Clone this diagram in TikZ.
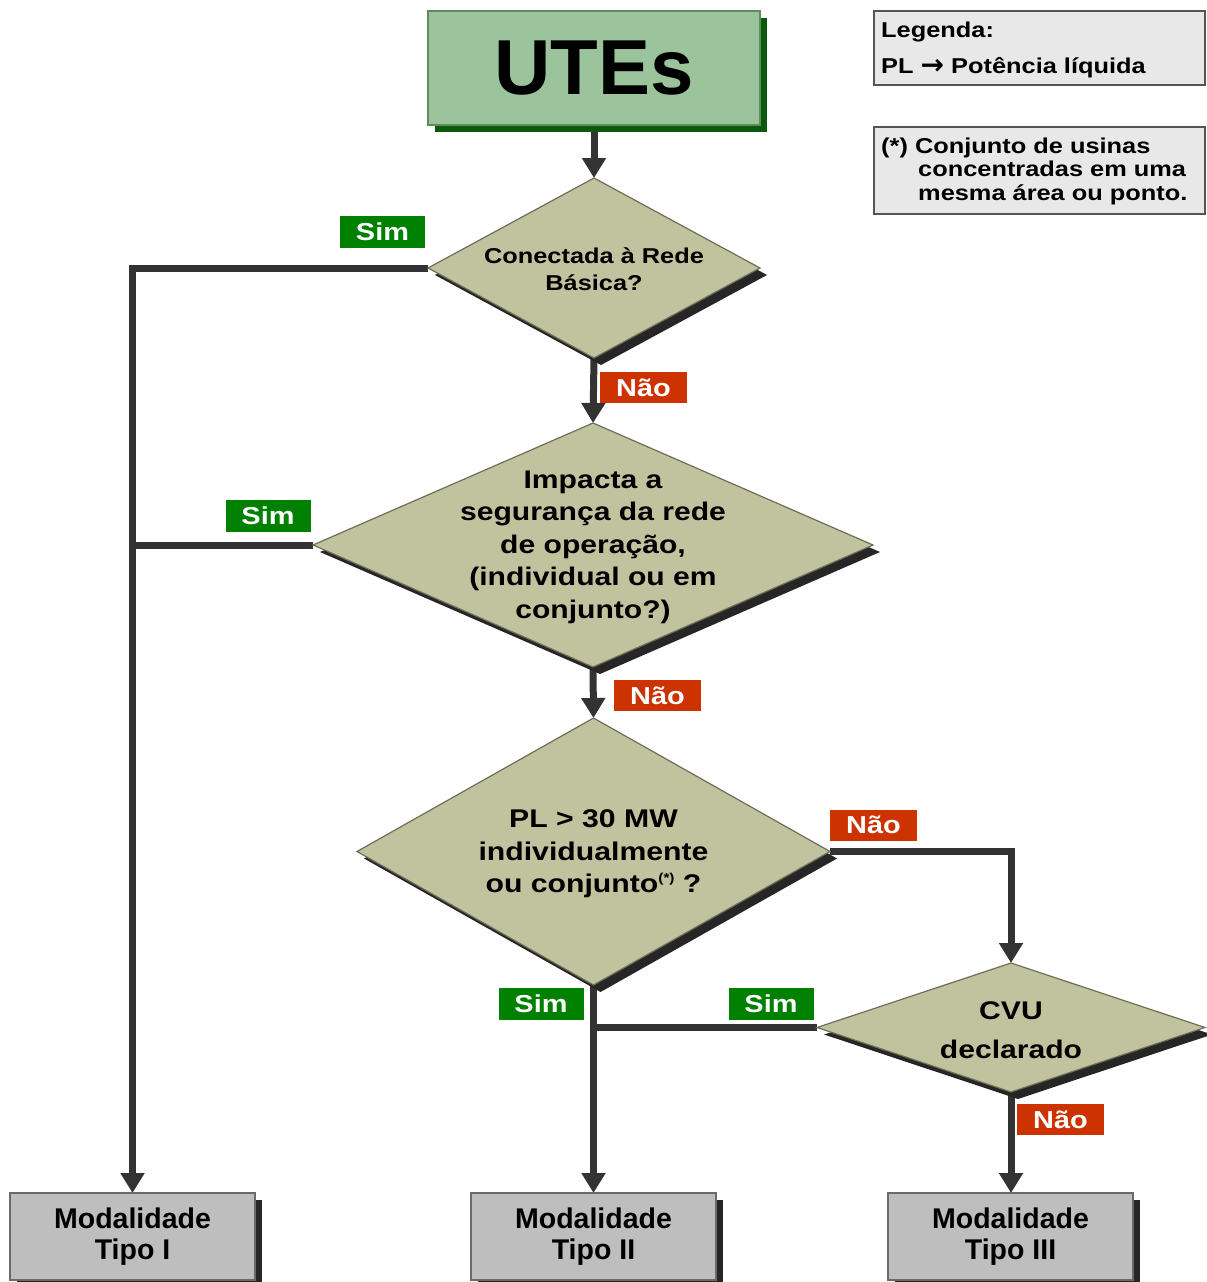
\documentclass[tikz,border=0pt]{standalone}
\usepackage{fontspec}
\setmainfont{Liberation Sans}
\newfontfamily\wsans{Liberation Sans}[FakeStretch=1.18]
\newfontfamily\arrowfont{DejaVu Sans}
\usetikzlibrary{shapes.geometric,arrows.meta,shadows,backgrounds}
\definecolor{utefill}{HTML}{9CC49C}
\definecolor{uteline}{HTML}{5E8C5E}
\definecolor{uteshadow}{HTML}{0B5A0B}
\definecolor{diafill}{HTML}{C1C29E}
\definecolor{dialine}{HTML}{6E6E58}
\definecolor{shadowgray}{HTML}{262626}
\definecolor{tipofill}{HTML}{BEBEBE}
\definecolor{tipoline}{HTML}{6A6A6A}
\definecolor{legfill}{HTML}{E8E8E8}
\definecolor{legline}{HTML}{555555}
\definecolor{conncol}{HTML}{333333}
\definecolor{simgreen}{HTML}{008000}
\definecolor{naored}{HTML}{CC3300}
\begin{document}
\begin{tikzpicture}[x=1pt,y=-1pt,
  dia/.style={diamond, draw=dialine, line width=1.2pt, fill=diafill,
    inner sep=0pt, outer sep=0pt,
    general shadow={fill=shadowgray, shadow xshift=7pt, shadow yshift=-7pt}},
  diatext/.style={align=center, inner sep=0pt},
  tipo/.style={rectangle, draw=tipoline, line width=1.2pt, fill=tipofill,
    minimum width=245pt, minimum height=87pt, inner sep=0pt, outer sep=0pt,
    general shadow={fill=shadowgray, shadow xshift=7pt, shadow yshift=-7pt},
    font=\fontsize{28.5}{30.5}\selectfont\bfseries, align=center},
  utebox/.style={rectangle, draw=uteline, line width=1.2pt, fill=utefill,
    minimum width=332pt, minimum height=114pt, inner sep=0pt, outer sep=0pt,
    general shadow={fill=uteshadow, shadow xshift=7pt, shadow yshift=-7pt},
    font=\fontsize{78}{80}\selectfont\bfseries},
  legbox/.style={rectangle, draw=legline, line width=1.2pt, fill=legfill,
    minimum width=331pt, inner sep=0pt, outer sep=0pt},
  legtext/.style={anchor=west, align=left, inner sep=0pt},
  conn/.style={draw=conncol, line width=7pt, -{Triangle[width=23pt,length=20pt]}},
  wire/.style={draw=conncol, line width=7pt},
  simlab/.style={fill=simgreen, text=white, minimum width=85pt, minimum height=32pt,
    inner sep=0pt, font=\wsans\fontsize{24.5}{26}\selectfont\bfseries},
  naolab/.style={fill=naored, text=white, minimum width=87pt, minimum height=31pt,
    inner sep=0pt, font=\wsans\fontsize{24.5}{26}\selectfont\bfseries}
]
\useasboundingbox (0,0) rectangle (1207,1282);

% main box
\node[utebox] (ute) at (594,68) {UTEs};

% legends
\node[legbox, minimum height=74pt] (leg1) at (1039.5,48) {};
\node[legtext, font=\wsans\fontsize{21.5}{36}\selectfont\bfseries] (leg1t) at (881,49.5)
  {Legenda:\\PL {\arrowfont\bfseries\fontsize{28}{28}\selectfont\raisebox{-1pt}{→}} Potência líquida};
\node[legbox, minimum height=87pt] (leg2) at (1039.5,170.5) {};
\node[legtext, font=\wsans\fontsize{21.5}{23.5}\selectfont\bfseries] (leg2t) at (881,171)
  {(*) Conjunto de usinas\\\hspace*{37pt}concentradas em uma\\\hspace*{37pt}mesma área ou ponto.};

% decisions
\node[dia, minimum width=332pt, minimum height=180pt] (d1) at (594,268) {};
\node[diatext, font=\wsans\fontsize{21.5}{27}\selectfont\bfseries] (d1t) at (594,269)
  {Conectada à Rede\\Básica?};

\node[dia, minimum width=560pt, minimum height=244pt] (d2) at (593,545) {};
\node[diatext, font=\wsans\fontsize{25.5}{32.5}\selectfont\bfseries] (d2t) at (593,547)
  {Impacta a\\segurança da rede\\de operação,\\(individual ou em\\conjunto?)};

\node[dia, minimum width=473pt, minimum height=267pt] (d3) at (593.5,851.5) {};
\node[diatext, font=\wsans\fontsize{25.6}{32.5}\selectfont\bfseries] (d3t) at (593.5,854)
  {PL > 30 MW\\individualmente\\ou conjunto{\fontsize{13}{13}\selectfont\raisebox{10pt}{(*)}} ?};

\node[dia, minimum width=388pt, minimum height=129pt] (d4) at (1011,1027.5) {};
\node[diatext, font=\wsans\fontsize{25.5}{39}\selectfont\bfseries] (d4t) at (1011,1030)
  {CVU\\declarado};

% outcomes
\node[tipo] (t1) at (132.5,1236.5) {Modalidade\\Tipo I};
\node[tipo] (t2) at (593.5,1236.5) {Modalidade\\Tipo II};
\node[tipo] (t3) at (1010.5,1236.5) {Modalidade\\Tipo III};

% connectors
\begin{scope}[on background layer]
\draw[conn] (ute.south) -- (d1.north);
\draw[conn] (d1.west) -| (t1.north);
\draw[wire] (d2.west) -- (d2.west -| t1.north);
\draw[conn] (d1.south) -- (d2.north);
\draw[conn] (d2.south) -- (d3.north);
\draw[conn] (d3.east) -| (d4.north);
\draw[conn] (d3.south) -- (d3.south |- t2.north);
\draw[wire] (d4.west) -- (d4.west -| d3.south);
\draw[conn] (d4.south) -- (d4.south |- t3.north);
\end{scope}

% labels
\node[simlab] (s1) at (382.5,232) {Sim};
\node[simlab] (s2) at (268,515.5) {Sim};
\node[naolab] (n1) at (643.5,387.5) {Não};
\node[naolab] (n2) at (657.5,695.5) {Não};
\node[naolab] (n3) at (873.5,825) {Não};
\node[simlab] (s3) at (541,1004) {Sim};
\node[simlab] (s4) at (771,1004) {Sim};
\node[naolab] (n4) at (1060.5,1119.5) {Não};
\end{tikzpicture}
\end{document}
